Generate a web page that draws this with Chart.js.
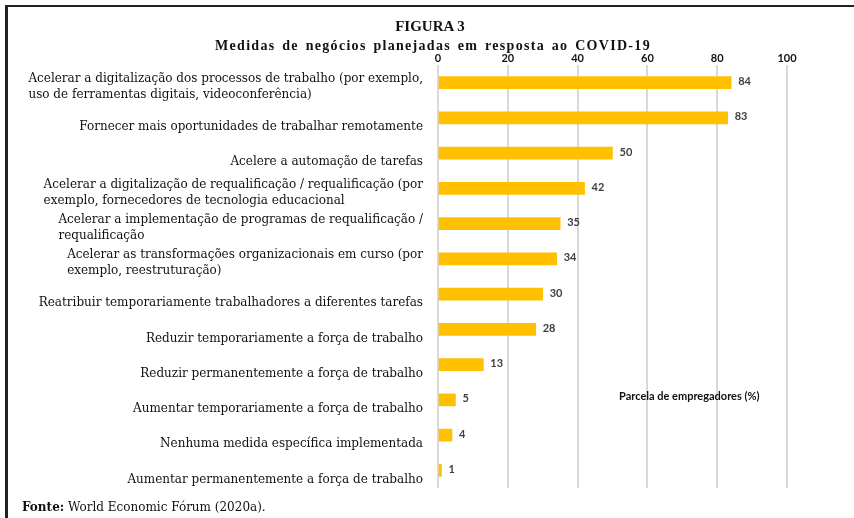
<!DOCTYPE html>
<html lang="pt">
<head>
    <meta charset="UTF-8">
    <title>Figura 3</title>
    <script src="https://cdn.jsdelivr.net/npm/chart.js"></script>
    <style>
        body { margin: 0; background: #fff; }
        #wrap { position: relative; width: 854px; height: 518px; overflow: hidden; }
        #frame { position: absolute; left: 5px; top: 5px; right: -5px; bottom: -5px; border-top: 2px solid #222; border-left: 3px solid #222; }
        #title { position: absolute; left: 0; width: 860px; top: 18px; text-align: center; font: bold 15px "Liberation Serif", serif; color: #111; }
        #subtitle { position: absolute; left: 0; width: 866px; top: 38px; text-align: center; font: bold 14px "Liberation Serif", serif; letter-spacing: 1.3px; word-spacing: 2px; color: #111; }
        #source { position: absolute; left: 22px; top: 500px; font: 12px "DejaVu Serif", serif; color: #111; }
        canvas { position: absolute; left: 0; top: 0; }
    </style>
</head>
<body>
<div id="wrap">
    <div id="frame"></div>
    <canvas id="chart" width="854" height="518"></canvas>
    <div id="title">FIGURA 3</div>
    <div id="subtitle">Medidas de negócios planejadas em resposta ao COVID-19</div>
    <div id="source"><b>Fonte:</b> World Economic Fórum (2020a).</div>
</div>
<script>
    const categories = [
        ['Acelerar a digitalização dos processos de trabalho (por exemplo,', 'uso de ferramentas digitais, videoconferência)'],
        ['Fornecer mais oportunidades de trabalhar remotamente'],
        ['Acelere a automação de tarefas'],
        ['Acelerar a digitalização de requalificação / requalificação (por', 'exemplo, fornecedores de tecnologia educacional'],
        ['Acelerar a implementação de programas de requalificação /', 'requalificação'],
        ['Acelerar as transformações organizacionais em curso (por', 'exemplo, reestruturação)'],
        ['Reatribuir temporariamente trabalhadores a diferentes tarefas'],
        ['Reduzir temporariamente a força de trabalho'],
        ['Reduzir permanentemente a força de trabalho'],
        ['Aumentar temporariamente a força de trabalho'],
        ['Nenhuma medida específica implementada'],
        ['Aumentar permanentemente a força de trabalho']
    ];
    const shares = [84, 83, 50, 42, 35, 34, 30, 28, 13, 5, 4, 1];
    const xTicks = [0, 20, 40, 60, 80, 100];
    const axisTitle = 'Parcela de empregadores (%)';

    // category labels: each block right-aligned, its lines left-aligned (like the Word/Excel original)
    const categoryLabels = {
        id: 'categoryLabels',
        afterDraw(chart) {
            const ctx = chart.ctx;
            const y = chart.scales.y;
            const right = y.right - 15;
            ctx.save();
            ctx.font = '12px "DejaVu Serif", serif';
            ctx.fillStyle = '#111';
            ctx.textBaseline = 'middle';
            ctx.textAlign = 'left';
            categories.forEach((lines, i) => {
                const py = y.getPixelForTick(i);
                const w = Math.max(...lines.map(l => ctx.measureText(l).width));
                const first = lines.length === 1 ? py + 9 : py - 4;
                lines.forEach((l, k) => ctx.fillText(l, right - w, first + k * 16));
            });
            ctx.restore();
        }
    };

    // value labels at the end of each bar + the floating axis title
    const barValues = {
        id: 'barValues',
        afterDatasetsDraw(chart) {
            const ctx = chart.ctx;
            ctx.save();
            ctx.font = 'bold 11px Lato, sans-serif';
            ctx.fillStyle = '#404040';
            ctx.textBaseline = 'middle';
            chart.getDatasetMeta(0).data.forEach((bar, i) => {
                ctx.fillText(shares[i], bar.x + 7, bar.y - 1);
            });
            ctx.fillStyle = '#111';
            ctx.textAlign = 'center';
            ctx.fillText(axisTitle, chart.scales.x.getPixelForValue(72), 396);
            ctx.restore();
        }
    };

    new Chart(document.getElementById('chart'), {
        type: 'bar',
        data: {
            labels: categories,
            datasets: [{
                data: shares,
                backgroundColor: '#FFC000',
                barThickness: 12
            }]
        },
        options: {
            indexAxis: 'y',
            responsive: false,
            animation: false,
            layout: { padding: { top: 52, right: 67, bottom: 30, left: 0 } },
            plugins: {
                legend: { display: false },
                tooltip: { enabled: false }
            },
            scales: {
                x: {
                    position: 'top',
                    min: 0,
                    max: 100,
                    afterBuildTicks: s => { s.ticks = xTicks.map(v => ({ value: v })); },
                    afterFit: s => { s.height = 13; },
                    border: { display: false },
                    grid: { color: '#d9d9d9', lineWidth: 2, drawTicks: false },
                    ticks: { padding: 0, color: '#111', font: { family: 'Lato', size: 11, weight: 'bold' } }
                },
                y: {
                    afterFit: s => { s.width = 438; },
                    border: { display: false },
                    grid: { display: false, drawTicks: false },
                    ticks: { display: false, autoSkip: false }
                }
            }
        },
        plugins: [barValues, categoryLabels]
    });
</script>
</body>
</html>
